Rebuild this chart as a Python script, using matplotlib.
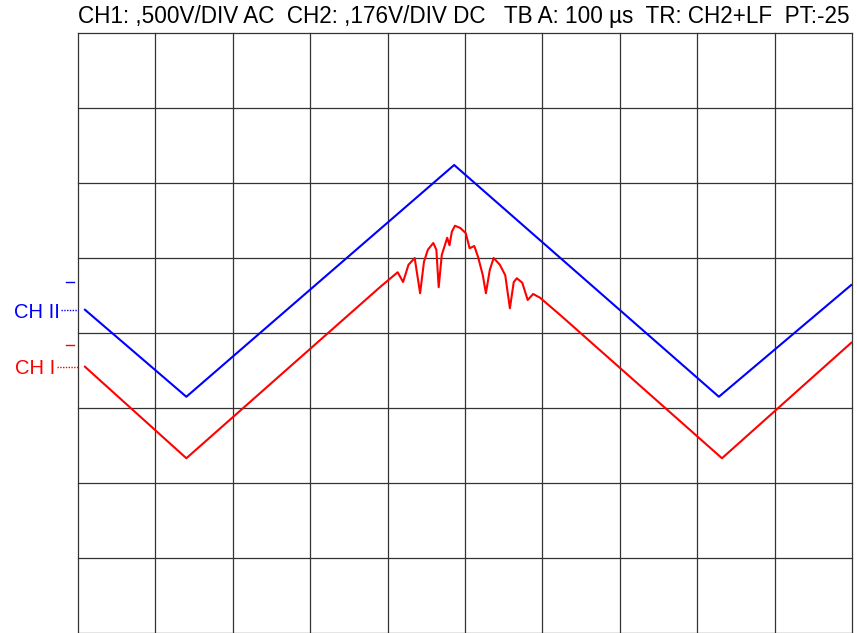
import matplotlib
matplotlib.use('Agg')
import matplotlib.pyplot as plt

plt.rcParams['font.family'] = ['Liberation Sans', 'DejaVu Sans']

# time axis in µs (100 µs/div), levels in screen divisions (0 = bottom)
ch2_t = [9, 140, 486, 828, 999]
ch2_y = [4.31, 3.15, 6.24, 3.15, 4.64]

ch1_t = [9, 140, 390, 413, 420, 427, 435, 442, 447, 452, 459, 463, 466, 470,
         477, 480, 483, 487, 494, 501, 506, 512, 517, 523, 527, 532, 537, 545,
         552, 558, 563, 567, 574, 581, 588, 597, 623, 832, 999]
ch1_y = [3.55, 2.33, 4.61, 4.81, 4.68, 4.91, 5.00, 4.53, 4.95, 5.11, 5.20, 5.11, 4.61, 5.04,
         5.27, 5.17, 5.35, 5.43, 5.40, 5.33, 5.13, 5.16, 5.01, 4.77, 4.53, 4.84, 5.00, 4.91,
         4.77, 4.33, 4.68, 4.73, 4.67, 4.44, 4.52, 4.47, 4.24, 2.33, 3.87]

ch2_level = 4.31
ch1_level = 3.55
ch2_mark = 4.68
ch1_mark = 3.84

header = 'CH1: ,500V/DIV AC  CH2: ,176V/DIV DC   TB A: 100 µs  TR: CH2+LF  PT:-25'

W, H = 857, 633
fig = plt.figure(figsize=(W / 100, H / 100), dpi=100)
ax = fig.add_axes([78 / W, 0, (852 - 78) / W, 1 - 33 / H])
ax.set_xlim(0, 1000)
ax.set_ylim(0, 8)
ax.axis('off')

# graticule
for i in range(11):
    ax.axvline(i * 100, color='#333333', lw=0.9, zorder=1, clip_on=False)
for j in range(9):
    ax.axhline(j, color='#333333', lw=0.9, zorder=1, clip_on=False)

ax.plot(ch2_t, ch2_y, color='#0000ff', lw=1.5, zorder=3)
ax.plot(ch1_t, ch1_y, color='#ff0000', lw=1.5, zorder=3)

# channel markers on the left
ax.plot([-22, 0], [ch2_level, ch2_level], color='#0000ff', lw=1, ls=(0, (1, 1)), clip_on=False)
ax.plot([-27, 0], [ch1_level, ch1_level], color='#ff0000', lw=1, ls=(0, (1, 1)), clip_on=False)
ax.plot([-15, -5], [ch2_mark, ch2_mark], color='#0000ff', lw=1, clip_on=False)
ax.plot([-15, -5], [ch1_mark, ch1_mark], color='#ff0000', lw=1, clip_on=False)
ax.text(-23, ch2_level - 0.03, 'CH II', color='#0000ff', fontsize=14.5,
        ha='right', va='center', clip_on=False)
ax.text(-29, ch1_level - 0.03, 'CH I', color='#ff0000', fontsize=14.5,
        ha='right', va='center', clip_on=False)

# header, fitted to the graticule width
t = fig.text(78 / W, 1 - 16 / H, header, fontsize=12.5, ha='left', va='center', color='black')
fig.canvas.draw()
bb = t.get_window_extent()
t.set_fontsize(12.5 * (852 - 78) / bb.width)

fig.savefig('out.png', dpi=100, facecolor='white')
